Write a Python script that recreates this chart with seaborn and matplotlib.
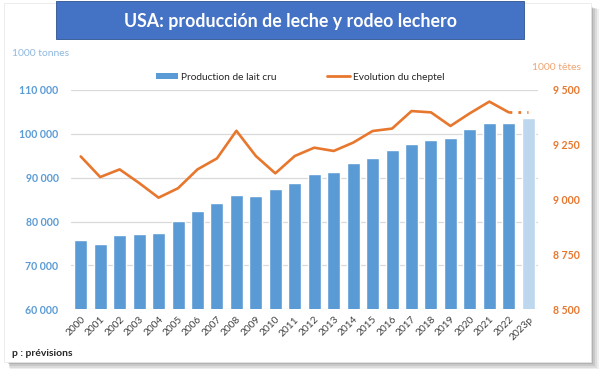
import numpy as np
import pandas as pd
import matplotlib
matplotlib.use("Agg")
import matplotlib.pyplot as plt
import seaborn as sns
from matplotlib.patches import Rectangle, Patch
from matplotlib.lines import Line2D

# ---------------- data ----------------
years = ["2000", "2001", "2002", "2003", "2004", "2005", "2006", "2007", "2008",
         "2009", "2010", "2011", "2012", "2013", "2014", "2015", "2016", "2017",
         "2018", "2019", "2020", "2021", "2022", "2023p"]
production = [75800, 75000, 77000, 77100, 77400, 80150, 82400, 84200, 86050,
              85750, 87350, 88860, 90900, 91230, 93430, 94570, 96250, 97690,
              98530, 98990, 101200, 102570, 102570, 103560]
cheptel_years = years[:23]
cheptel = [9197, 9103, 9138, 9076, 9009, 9052, 9138, 9188, 9314, 9199, 9120,
           9199, 9237, 9222, 9260, 9313, 9324, 9404, 9398, 9336, 9394, 9447, 9398]
cheptel_forecast = [9398, 9398]          # 2022 -> 2023p
forecast_years = ["2022", "2023p"]
left_ticks = [60000, 70000, 80000, 90000, 100000, 110000]
left_ticklabels = ["60 000", "70 000", "80 000", "90 000", "100 000", "110 000"]
right_ticks = [8500, 8750, 9000, 9250, 9500]
right_ticklabels = ["8 500", "8 750", "9 000", "9 250", "9 500"]

title = "USA: producción de leche y rodeo lechero"
BLUE = "#5B9BD5"
LIGHT_BLUE = "#BDD7EE"
ORANGE = "#E8772E"
GRID = "#D9D9D9"

sns.set_theme(style="white")
plt.rcParams["font.family"] = ["Lato", "DejaVu Sans"]

W, H = 600, 369
fig = plt.figure(figsize=(6, 3.69), dpi=100)
fig.patch.set_facecolor("white")

def px(x0, y0, x1, y1):
    return (x0 / W, 1 - y1 / H, (x1 - x0) / W, (y1 - y0) / H)

# card shadow + card
for i, a in enumerate([0.10, 0.12, 0.15, 0.2]):
    d = 8 - 2 * i
    l, b, w, h = px(8 + d * 0.2, 7 + d * 0.2, 591 + d, 362 + d)
    fig.patches.append(Rectangle((l, b), w, h, transform=fig.transFigure,
                                 facecolor="#5a5a5a", alpha=a, edgecolor="none", zorder=-10))
l, b, w, h = px(4, 3, 591, 362)
fig.patches.append(Rectangle((l, b), w, h, transform=fig.transFigure,
                             facecolor="white", edgecolor="#e6e6e6", lw=0.5, zorder=-5))
# title box
l, b, w, h = px(56, 1, 524, 39)
fig.patches.append(Rectangle((l, b), w, h, transform=fig.transFigure,
                             facecolor="#4472C4", edgecolor="#2F528F", lw=0.6, zorder=-4))
fig.text(291 / W, 1 - 22 / H, title, color="white", fontsize=12.8, fontweight="bold",
         ha="center", va="center", zorder=3)

# ---------------- axes ----------------
ax = fig.add_axes(px(71, 90, 538, 309.3))
ax.set_facecolor("none")
df = pd.DataFrame({"year": years, "production": production})
palette = [BLUE] * (len(years) - 1) + [LIGHT_BLUE]
sns.barplot(data=df, x="year", y="production", hue="year", palette=palette,
            legend=False, width=0.67, ax=ax, saturation=1, zorder=2)
ax.set_ylim(60000, 110000)
ax.set_xlim(-0.5, len(years) - 0.5)
ax.set_yticks(left_ticks)
ax.set_yticklabels(left_ticklabels, color=BLUE, fontsize=7.6, fontweight="bold")
ax.grid(axis="y", color=GRID, lw=0.9, zorder=0)
ax.set_axisbelow(True)
ax.set_xlabel("")
ax.set_ylabel("")
ax.set_xticks(range(len(years)))
ax.set_xticklabels(years, rotation=45, ha="right", rotation_mode="anchor",
                   fontsize=7.3, color="#404040")
ax.tick_params(axis="x", length=0, pad=4)
ax.tick_params(axis="y", length=0, pad=9)
for s in ax.spines.values():
    s.set_visible(False)

ax2 = ax.twinx()
pos = [years.index(y) for y in cheptel_years]
sns.lineplot(x=pos, y=cheptel, ax=ax2, color=ORANGE, lw=1.9, zorder=4)
fpos = [years.index(y) for y in forecast_years]
sns.lineplot(x=fpos, y=cheptel_forecast, ax=ax2, color=ORANGE, lw=2.0,
             linestyle=(0, (1, 2.2)), zorder=4)
ax2.set_ylim(8500, 9500)
ax2.set_yticks(right_ticks)
ax2.set_yticklabels(right_ticklabels, color=ORANGE, fontsize=7.6, fontweight="bold")
ax2.tick_params(axis="y", length=0, pad=11)
ax2.grid(False)
ax2.set_ylabel("")
for s in ax2.spines.values():
    s.set_visible(False)
ax.set_xlim(-0.5, len(years) - 0.5)

# unit labels
fig.text(12 / W, 1 - 54 / H, "1000 tonnes", color="#8FB8E0", fontsize=7.5, va="center", ha="left")
fig.text(581 / W, 1 - 68 / H, "1000 têtes", color="#F0A572", fontsize=7.5, va="center", ha="right")

# legend
handles = [Patch(facecolor=BLUE, edgecolor="none", label="Production de lait cru"),
           Line2D([0], [0], color=ORANGE, lw=2, label="Evolution du cheptel")]
fig.legend(handles=handles, loc="center", bbox_to_anchor=(300 / W, 1 - 77 / H), ncol=2,
           frameon=False, fontsize=7.3, handlelength=2.2, handleheight=0.5,
           handletextpad=0.3, columnspacing=5.0, labelcolor="#262626")

fig.text(12 / W, 1 - 353 / H, "p : prévisions", color="#262626", fontsize=7.5,
         va="center", ha="left", fontweight="bold")

fig.savefig("out.png", dpi=100)
